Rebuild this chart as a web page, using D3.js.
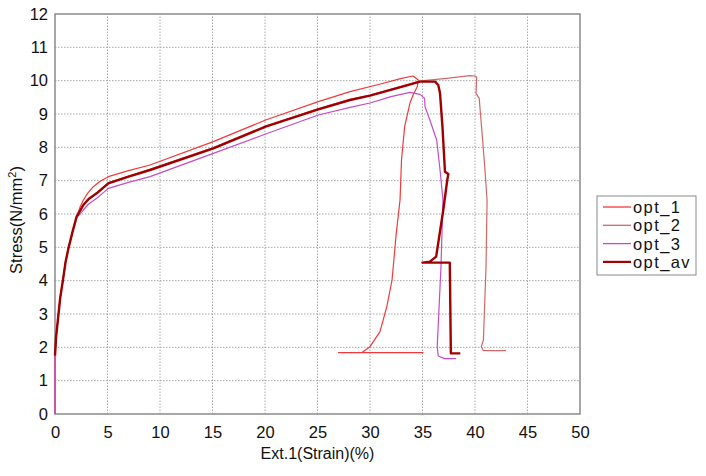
<!DOCTYPE html>
<html>
<head>
<meta charset="utf-8">
<script src="https://cdn.jsdelivr.net/npm/d3@7"></script>
<style>
  body { margin: 0; background: #fff; }
  svg { font-family: "Liberation Sans", Arial, sans-serif; }
</style>
</head>
<body>
<div class="chart"></div>
<script>
// series names + colours (legend order)
var seriesNames = ["opt_1", "opt_2", "opt_3", "opt_av"];
var seriesColors = ["#f03a3a", "#d06868", "#c44cc4", "#a00000"];

var xTicks = [0, 5, 10, 15, 20, 25, 30, 35, 40, 45, 50];
var yTicks = [0, 1, 2, 3, 4, 5, 6, 7, 8, 9, 10, 11, 12];

// strain (%) / stress (N/mm2)
var opt1Strain = [0, 0, 0.1, 0.3, 0.5, 0.75, 1.0, 1.3, 1.7, 2.06, 2.4, 2.7, 3.1, 3.65, 4.3, 5.08, 7, 9.05, 15.08, 20.06, 25.08, 28.1, 31, 33, 34.1, 34.6, 34.5, 34.1, 33.8, 33.3, 33.0, 32.86, 32.5, 32.1, 31.6, 30.95, 30.0, 29.2, 27.0, 35.1];
var opt1Stress = [0, 1.72, 2.3, 2.9, 3.5, 4.0, 4.55, 5.0, 5.5, 5.92, 6.22, 6.42, 6.62, 6.82, 6.98, 7.12, 7.3, 7.47, 8.17, 8.82, 9.37, 9.67, 9.9, 10.07, 10.14, 10.02, 9.82, 9.57, 9.32, 8.62, 7.62, 6.42, 5.42, 4.02, 3.22, 2.47, 2.02, 1.84, 1.84, 1.84];

var opt2Strain = [0, 0, 0.1, 0.3, 0.5, 0.75, 1.0, 1.3, 1.7, 2.06, 2.4, 2.7, 3.97, 5.08, 9.05, 15.08, 20.06, 25.08, 28.1, 30, 32.5, 34.76, 35.1, 37.3, 39.5, 40.0, 40.16, 40.1, 40.4, 40.7, 40.95, 41.15, 41.05, 40.8, 40.6, 40.8, 42.95];
var opt2Stress = [0, 1.72, 2.3, 2.9, 3.5, 4.0, 4.55, 5.0, 5.5, 5.92, 6.12, 6.29, 6.64, 6.94, 7.34, 7.99, 8.64, 9.16, 9.44, 9.57, 9.79, 9.99, 10.0, 10.07, 10.15, 10.14, 10.1, 9.62, 9.47, 8.32, 7.32, 6.4, 4.42, 2.22, 2.02, 1.9, 1.9];

var opt3Strain = [0, 0, 0.1, 0.3, 0.5, 0.75, 1.0, 1.3, 1.7, 2.06, 2.4, 2.7, 3.2, 3.97, 5.08, 7, 9.05, 15.08, 20.06, 25.08, 28.1, 30, 32, 33.8, 34.76, 35.2, 35.24, 35.7, 36.35, 36.67, 36.95, 36.76, 36.4, 36.5, 37.1, 38.2];
var opt3Stress = [0, 1.72, 2.3, 2.9, 3.5, 4.0, 4.55, 5.0, 5.5, 5.9, 6.0, 6.12, 6.3, 6.47, 6.77, 6.95, 7.12, 7.82, 8.4, 8.97, 9.2, 9.33, 9.52, 9.65, 9.59, 9.47, 9.22, 8.82, 8.22, 7.32, 6.42, 4.42, 2.02, 1.74, 1.66, 1.66];

var optAvStrain = [0, 0.1, 0.3, 0.5, 0.75, 1.0, 1.3, 1.7, 2.06, 2.4, 2.7, 3.2, 3.97, 5.08, 7, 9.05, 15.08, 20.06, 25.08, 28.1, 30, 32.5, 34.76, 36.2, 36.5, 36.67, 36.9, 37.14, 37.46, 37.36, 36.98, 36.3, 35.7, 35.0, 37.6, 37.7, 38.6];
var optAvStress = [1.75, 2.3, 2.9, 3.5, 4.0, 4.55, 5.0, 5.5, 5.92, 6.1, 6.27, 6.45, 6.62, 6.92, 7.12, 7.32, 7.97, 8.62, 9.14, 9.42, 9.55, 9.77, 9.97, 9.97, 9.87, 9.62, 8.62, 7.27, 7.2, 7.02, 6.12, 4.72, 4.57, 4.54, 4.54, 1.82, 1.82];

var strains = [opt1Strain, opt2Strain, opt3Strain, optAvStrain];
var stresses = [opt1Stress, opt2Stress, opt3Stress, optAvStress];
var lineWidths = [1.2, 1.2, 1.2, 2.4];

var width = 706, height = 476;
var margin = { top: 14, right: 126, bottom: 62, left: 55 };

var svg = d3.select(".chart")
    .append("svg")
    .attr("width", width)
    .attr("height", height);

var x = d3.scaleLinear()
    .domain([0, 50])
    .range([margin.left, width - margin.right]);

var y = d3.scaleLinear()
    .domain([0, 12])
    .range([height - margin.bottom, margin.top]);

// dotted grid
svg.append("g")
    .selectAll("line")
    .data(xTicks.slice(1, -1))
    .enter().append("line")
    .attr("x1", function (d) { return x(d); })
    .attr("x2", function (d) { return x(d); })
    .attr("y1", y(0))
    .attr("y2", y(12))
    .attr("stroke", "#a8a8a8")
    .attr("stroke-dasharray", "1.5,1.5");

svg.append("g")
    .selectAll("line")
    .data(yTicks.slice(1, -1))
    .enter().append("line")
    .attr("y1", function (d) { return y(d); })
    .attr("y2", function (d) { return y(d); })
    .attr("x1", x(0))
    .attr("x2", x(50))
    .attr("stroke", "#a8a8a8")
    .attr("stroke-dasharray", "1.5,1.5");

// axes (labels only, no tick marks)
var xAxis = svg.append("g")
    .attr("transform", "translate(0," + y(0) + ")")
    .call(d3.axisBottom(x).tickValues(xTicks).tickSize(0).tickPadding(12));

var yAxis = svg.append("g")
    .attr("transform", "translate(" + x(0) + ",0)")
    .call(d3.axisLeft(y).tickValues(yTicks).tickSize(0).tickPadding(7));

[xAxis, yAxis].forEach(function (a) {
    a.select(".domain").remove();
    a.selectAll("text")
        .attr("fill", "#111")
        .style("font-size", "16.5px")
        .style("font-family", "'Liberation Sans', Arial, sans-serif");
});

// plot frame
svg.append("rect")
    .attr("x", x(0))
    .attr("y", y(12))
    .attr("width", x(50) - x(0))
    .attr("height", y(0) - y(12))
    .attr("fill", "none")
    .attr("stroke", "#8a8a8a")
    .attr("stroke-width", 1.5);

// curves
var line = d3.line()
    .x(function (d) { return x(d[0]); })
    .y(function (d) { return y(d[1]); });

seriesNames.forEach(function (name, i) {
    var pts = strains[i].map(function (s, j) { return [s, stresses[i][j]]; });
    svg.append("path")
        .datum(pts)
        .attr("d", line)
        .attr("fill", "none")
        .attr("stroke", seriesColors[i])
        .attr("stroke-width", lineWidths[i])
        .attr("stroke-linejoin", "round");
});

// axis titles
svg.append("text")
    .attr("x", (x(0) + x(50)) / 2)
    .attr("y", 459)
    .attr("text-anchor", "middle")
    .style("font-size", "16px")
    .attr("fill", "#111")
    .text("Ext.1(Strain)(%)");

var yTitle = svg.append("text")
    .attr("transform", "translate(22,220) rotate(-90)")
    .attr("text-anchor", "middle")
    .style("font-size", "16.5px")
    .attr("fill", "#111");
yTitle.append("tspan").text("Stress(N/mm");
yTitle.append("tspan").attr("dy", -6).style("font-size", "11px").text("2");
yTitle.append("tspan").attr("dy", 6).text(")");

// legend
var legend = svg.append("g")
    .attr("transform", "translate(597,196)");

legend.append("rect")
    .attr("width", 99)
    .attr("height", 79)
    .attr("fill", "#fff")
    .attr("stroke", "#8a8a8a")
    .attr("stroke-width", 1);

var rows = legend.selectAll(".row")
    .data(seriesNames)
    .enter().append("g")
    .attr("class", "row")
    .attr("transform", function (d, i) { return "translate(0," + (11 + i * 18.3) + ")"; });

rows.append("line")
    .attr("x1", 6)
    .attr("x2", 34)
    .attr("stroke", function (d, i) { return seriesColors[i]; })
    .attr("stroke-width", function (d, i) { return i == 3 ? 2.2 : 1.3; });

rows.append("text")
    .attr("x", 36)
    .attr("dy", "0.36em")
    .style("font-size", "16.5px")
    .style("letter-spacing", "1.4px")
    .attr("fill", "#111")
    .text(function (d) { return d; });
</script>
</body>
</html>
